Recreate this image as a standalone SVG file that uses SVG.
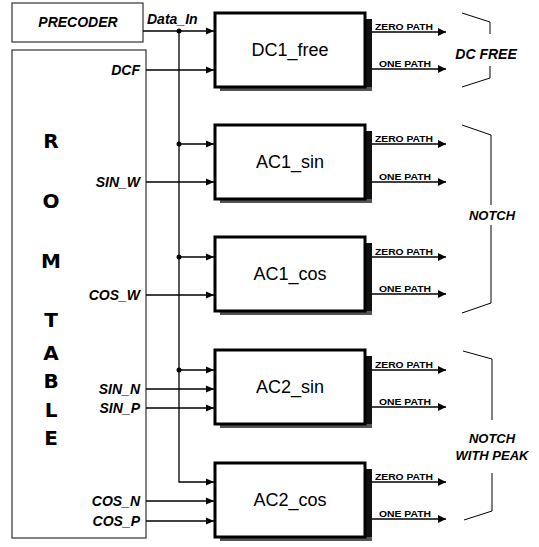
<svg xmlns="http://www.w3.org/2000/svg" width="539" height="547" viewBox="0 0 539 547">
<defs>
<style>
.frame{fill:#fff;stroke:#333;stroke-width:1.2}
.box{fill:#fff;stroke:#000;stroke-width:3}
.shR{fill:#111}
.shB{fill:#555}
.bl{font-family:"Liberation Sans",Arial,sans-serif;font-size:18px;text-anchor:middle;fill:#000}
.lab{font-family:"Liberation Sans",Arial,sans-serif;font-size:14px;font-weight:bold;font-style:italic;fill:#000}
.r{text-anchor:end}
.m{text-anchor:middle}
.rom{font-family:"DejaVu Sans",sans-serif;font-size:20px;font-weight:bold;text-anchor:middle;fill:#000}
.pl{font-family:"Liberation Sans",Arial,sans-serif;font-size:8.5px;font-weight:bold;fill:#000}
.w{fill:none;stroke:#000;stroke-width:1.3}
.in{marker-end:url(#ai)}
.out{marker-end:url(#ao)}
.br{fill:none;stroke:#000;stroke-width:1}
</style>
<marker id="ai" markerUnits="userSpaceOnUse" markerWidth="8" markerHeight="8" refX="8" refY="4" orient="auto"><path d="M0,0.5 L8,4 L0,7.5 z" fill="#000"/></marker>
<marker id="ao" markerUnits="userSpaceOnUse" markerWidth="8" markerHeight="9" refX="8" refY="4.5" orient="auto"><path d="M0,0.5 L8,4.5 L0,8.5 z" fill="#000"/></marker>
</defs>
<rect width="539" height="547" fill="#fff"/>

<g id="precoder">
<rect class="frame" x="12" y="3" width="131" height="39"/>
<text class="lab m" x="78" y="27">PRECODER</text>
</g>

<g id="rom_table">
<rect class="frame" x="12" y="50" width="134" height="488"/>
<text class="rom" x="51" y="148">R</text>
<text class="rom" x="51" y="208">O</text>
<text class="rom" x="51" y="268">M</text>
<text class="rom" x="51" y="327">T</text>
<text class="rom" x="51" y="360">A</text>
<text class="rom" x="51" y="388">B</text>
<text class="rom" x="51" y="417">L</text>
<text class="rom" x="51" y="445">E</text>
<text class="lab r" x="140" y="75">DCF</text>
<text class="lab r" x="140" y="187">SIN_W</text>
<text class="lab r" x="140" y="300">COS_W</text>
<text class="lab r" x="140" y="394">SIN_N</text>
<text class="lab r" x="140" y="413">SIN_P</text>
<text class="lab r" x="140" y="506">COS_N</text>
<text class="lab r" x="140" y="526">COS_P</text>
</g>

<g id="dc1_free">
<rect class="shR" x="365" y="19" width="7" height="72"/>
<rect class="shB" x="220" y="87" width="152" height="4"/>
<rect class="box" x="215" y="13" width="150" height="74"/>
<text class="bl" x="290" y="56">DC1_free</text>
</g>
<g id="ac1_sin">
<rect class="shR" x="365" y="131" width="7" height="72"/>
<rect class="shB" x="220" y="199" width="152" height="4"/>
<rect class="box" x="215" y="125" width="150" height="74"/>
<text class="bl" x="290" y="168">AC1_sin</text>
</g>
<g id="ac1_cos">
<rect class="shR" x="365" y="243" width="7" height="72"/>
<rect class="shB" x="220" y="311" width="152" height="4"/>
<rect class="box" x="215" y="237" width="150" height="74"/>
<text class="bl" x="290" y="280">AC1_cos</text>
</g>
<g id="ac2_sin">
<rect class="shR" x="365" y="356" width="7" height="72"/>
<rect class="shB" x="220" y="424" width="152" height="4"/>
<rect class="box" x="215" y="350" width="150" height="74"/>
<text class="bl" x="290" y="393">AC2_sin</text>
</g>
<g id="ac2_cos">
<rect class="shR" x="365" y="469" width="7" height="72"/>
<rect class="shB" x="220" y="537" width="152" height="4"/>
<rect class="box" x="215" y="463" width="150" height="74"/>
<text class="bl" x="290" y="506">AC2_cos</text>
</g>

<g id="connectors">
<path class="w in" d="M143,31 H214"/>
<path class="w in" d="M179,31 V482 H214"/>
<path class="w in" d="M179,144 H214"/>
<path class="w in" d="M179,257 H214"/>
<path class="w in" d="M179,370 H214"/>
<path class="w in" d="M146,70 H214"/>
<path class="w in" d="M146,182 H214"/>
<path class="w in" d="M146,295 H214"/>
<path class="w in" d="M146,389 H214"/>
<path class="w in" d="M146,408 H214"/>
<path class="w in" d="M146,501 H214"/>
<path class="w in" d="M146,521 H214"/>
<circle cx="179" cy="31" r="2.5"/>
<circle cx="179" cy="144" r="2.5"/>
<circle cx="179" cy="257" r="2.5"/>
<circle cx="179" cy="370" r="2.5"/>
<path class="w out" d="M372,32 H446"/>
<path class="w out" d="M372,69 H446"/>
<path class="w out" d="M372,144 H446"/>
<path class="w out" d="M372,182 H446"/>
<path class="w out" d="M372,257 H446"/>
<path class="w out" d="M372,294 H446"/>
<path class="w out" d="M372,370 H446"/>
<path class="w out" d="M372,407 H446"/>
<path class="w out" d="M372,482 H446"/>
<path class="w out" d="M372,519 H446"/>
</g>

<g id="labels">
<text class="lab" x="147" y="24">Data_In</text>
<text class="pl" x="375" y="30" textLength="58" lengthAdjust="spacingAndGlyphs">ZERO PATH</text>
<text class="pl" x="379" y="67" textLength="52" lengthAdjust="spacingAndGlyphs">ONE PATH</text>
<text class="pl" x="375" y="142" textLength="58" lengthAdjust="spacingAndGlyphs">ZERO PATH</text>
<text class="pl" x="379" y="180" textLength="52" lengthAdjust="spacingAndGlyphs">ONE PATH</text>
<text class="pl" x="375" y="255" textLength="58" lengthAdjust="spacingAndGlyphs">ZERO PATH</text>
<text class="pl" x="379" y="292" textLength="52" lengthAdjust="spacingAndGlyphs">ONE PATH</text>
<text class="pl" x="375" y="368" textLength="58" lengthAdjust="spacingAndGlyphs">ZERO PATH</text>
<text class="pl" x="379" y="405" textLength="52" lengthAdjust="spacingAndGlyphs">ONE PATH</text>
<text class="pl" x="375" y="480" textLength="58" lengthAdjust="spacingAndGlyphs">ZERO PATH</text>
<text class="pl" x="379" y="517" textLength="52" lengthAdjust="spacingAndGlyphs">ONE PATH</text>
</g>

<g id="brackets">
<path class="br" d="M462,13 L490,22 V34 M490,66 V78 L462,87"/>
<text class="lab m" x="486" y="59">DC FREE</text>
<path class="br" d="M462,125 L491,135 V205 M491,225 V303 L462,313"/>
<text class="lab m" x="492" y="220" style="font-size:13px">NOTCH</text>
<path class="br" d="M463,351 L492,359 V420 M492,473 V511 L464,520"/>
<text class="lab m" x="492" y="443" style="font-size:13px">NOTCH</text>
<text class="lab m" x="492" y="460" style="font-size:13px">WITH PEAK</text>
</g>
</svg>
